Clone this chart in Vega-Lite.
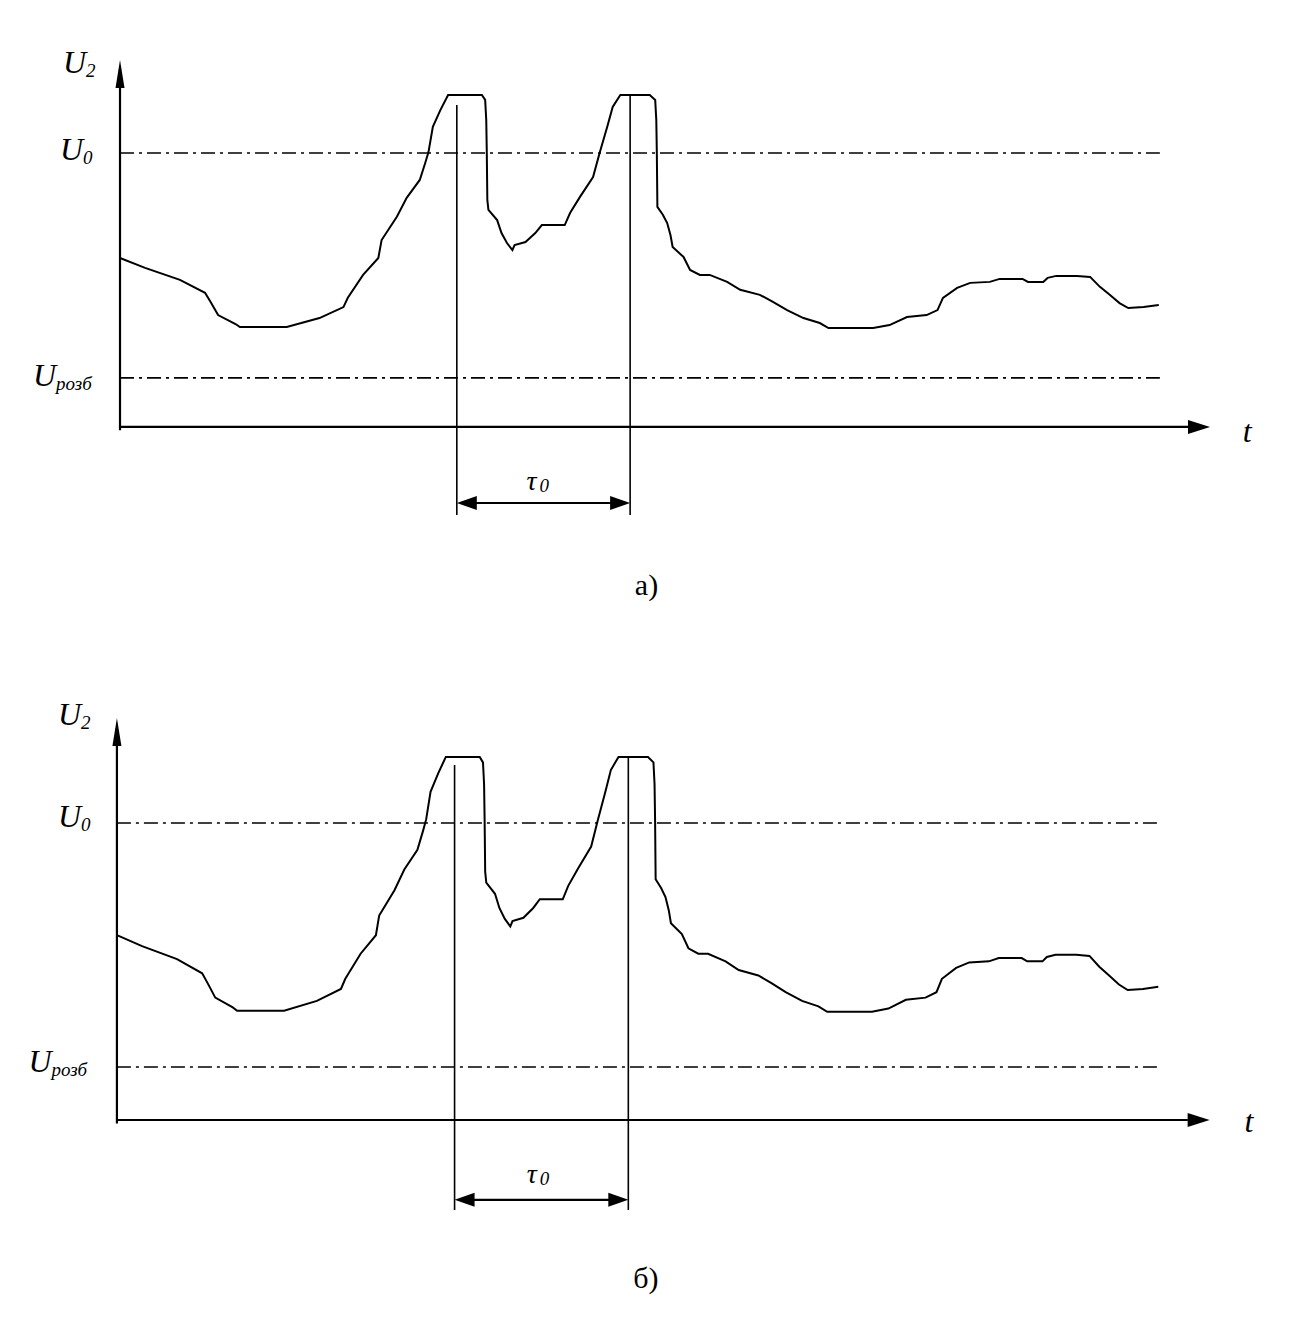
{
  "$schema": "https://vega.github.io/schema/vega-lite/v6.json",
  "padding": 0,
  "spacing": 0,
  "background": "white",
  "config": {"view": {"stroke": null}},
  "datasets": {
    "curve": [
      {"t": 0, "u": 50.9}, {"t": 2.3, "u": 47.9}, {"t": 5.5, "u": 44.3}, {"t": 7.8, "u": 40.4},
      {"t": 8.3, "u": 37.7}, {"t": 9.0, "u": 33.7}, {"t": 10.6, "u": 31.0}, {"t": 11.0, "u": 30.1},
      {"t": 15.3, "u": 30.1}, {"t": 18.3, "u": 32.8}, {"t": 20.5, "u": 36.1}, {"t": 20.9, "u": 38.9},
      {"t": 22.3, "u": 45.8}, {"t": 23.7, "u": 50.9}, {"t": 24.0, "u": 56.3}, {"t": 25.4, "u": 63.3},
      {"t": 26.3, "u": 69.0}, {"t": 27.5, "u": 74.4}, {"t": 28.0, "u": 79.5}, {"t": 28.3, "u": 82.8},
      {"t": 28.7, "u": 90.4}, {"t": 29.4, "u": 95.5}, {"t": 30.1, "u": 100}, {"t": 33.2, "u": 100},
      {"t": 33.5, "u": 98.5}, {"t": 33.6, "u": 92.5}, {"t": 33.65, "u": 82.5}, {"t": 33.7, "u": 68.4},
      {"t": 33.8, "u": 65.4}, {"t": 34.6, "u": 62.3}, {"t": 35.0, "u": 58.4}, {"t": 35.5, "u": 55.4},
      {"t": 36.0, "u": 53.3}, {"t": 36.2, "u": 54.8}, {"t": 37.2, "u": 55.7}, {"t": 38.1, "u": 58.4},
      {"t": 38.7, "u": 60.8}, {"t": 40.8, "u": 60.8}, {"t": 41.3, "u": 64.5}, {"t": 42.2, "u": 69.3},
      {"t": 43.4, "u": 75.3}, {"t": 44.0, "u": 82.5}, {"t": 44.7, "u": 90.4}, {"t": 45.2, "u": 96.4},
      {"t": 45.9, "u": 100}, {"t": 48.6, "u": 100}, {"t": 49.1, "u": 98.5}, {"t": 49.2, "u": 92.5},
      {"t": 49.25, "u": 82.5}, {"t": 49.3, "u": 66.3}, {"t": 49.8, "u": 63.9}, {"t": 50.2, "u": 61.4},
      {"t": 50.5, "u": 57.8}, {"t": 50.7, "u": 54.2}, {"t": 51.7, "u": 51.2}, {"t": 52.3, "u": 47.3},
      {"t": 53.2, "u": 45.8}, {"t": 54.1, "u": 45.8}, {"t": 55.7, "u": 43.7}, {"t": 56.9, "u": 41.3},
      {"t": 58.7, "u": 39.8}, {"t": 59.9, "u": 37.7}, {"t": 61.2, "u": 35.2}, {"t": 62.7, "u": 32.8},
      {"t": 64.2, "u": 31.3}, {"t": 65.0, "u": 29.8}, {"t": 69.1, "u": 29.8}, {"t": 70.6, "u": 30.7},
      {"t": 72.2, "u": 33.1}, {"t": 74.0, "u": 33.7}, {"t": 75.0, "u": 35.2}, {"t": 75.5, "u": 38.9},
      {"t": 76.8, "u": 41.9}, {"t": 78.0, "u": 43.4}, {"t": 79.8, "u": 43.7}, {"t": 80.7, "u": 44.6},
      {"t": 82.8, "u": 44.6}, {"t": 83.3, "u": 43.7}, {"t": 84.7, "u": 43.7}, {"t": 85.1, "u": 44.9},
      {"t": 85.9, "u": 45.5}, {"t": 87.8, "u": 45.5}, {"t": 89.0, "u": 45.2}, {"t": 89.9, "u": 42.2},
      {"t": 90.8, "u": 39.8}, {"t": 91.7, "u": 37.3}, {"t": 92.5, "u": 35.8}, {"t": 93.9, "u": 36.1},
      {"t": 95.3, "u": 36.7}
    ]
  },
  "vconcat": [
    {
      "width": 1308,
      "height": 668,
      "encoding": {
        "x": {"field": "t", "type": "quantitative", "axis": null, "scale": {"domain": [-11.01, 108.99], "nice": false, "zero": false}},
        "y": {"field": "u", "type": "quantitative", "axis": null, "scale": {"domain": [-72.6, 128.6], "nice": false, "zero": false}}
      },
      "layer": [
        {
          "data": {"values": [
            {"t": 0, "t2": 95.4, "u": 82.5, "u2": 82.5},
            {"t": 0, "t2": 95.4, "u": 14.8, "u2": 14.8}
          ]},
          "mark": {"type": "rule", "color": "black", "strokeWidth": 1.6, "strokeDash": [14, 5, 3, 5]},
          "encoding": {"x2": {"field": "t2"}, "y2": {"field": "u2"}}
        },
        {
          "data": {"values": [
            {"t": 30.9, "t2": 30.9, "u": 97, "u2": -26.5},
            {"t": 46.8, "t2": 46.8, "u": 100, "u2": -26.5}
          ]},
          "mark": {"type": "rule", "color": "black", "strokeWidth": 1.6},
          "encoding": {"x2": {"field": "t2"}, "y2": {"field": "u2"}}
        },
        {
          "data": {"values": [
            {"t": 0, "t2": 0, "u": -1, "u2": 108},
            {"t": 0, "t2": 98, "u": 0, "u2": 0},
            {"t": 31.5, "t2": 46, "u": -22.9, "u2": -22.9}
          ]},
          "mark": {"type": "rule", "color": "black", "strokeWidth": 2.2},
          "encoding": {"x2": {"field": "t2"}, "y2": {"field": "u2"}}
        },
        {
          "data": {"name": "curve"},
          "mark": {"type": "line", "color": "black", "strokeWidth": 2},
          "encoding": {}
        },
        {
          "data": {"values": [
            {"t": 100, "u": 0, "dir": "axis-right"},
            {"t": 0, "u": 110.5, "dir": "axis-up"},
            {"t": 30.9, "u": -22.9, "dir": "dim-left"},
            {"t": 46.8, "u": -22.9, "dir": "dim-right"}
          ]},
          "mark": {"type": "point", "filled": true, "color": "black", "opacity": 1, "size": 400, "strokeWidth": 0},
          "encoding": {
            "shape": {"field": "dir", "type": "nominal", "legend": null, "scale": {"domain": ["axis-right", "axis-up", "dim-left", "dim-right"], "range": ["M0,0L-2.2,-0.7L-2.2,0.7Z", "M0,0L-0.45,2.8L0.45,2.8Z", "M0,0L2,-0.7L2,0.7Z", "M0,0L-2,-0.7L-2,0.7Z"]}}
          }
        },
        {
          "data": {"values": [
            {"t": -5.23, "u": 106.6, "m": "U", "s": "2"},
            {"t": -5.5, "u": 80.4, "m": "U", "s": "0"},
            {"t": -7.98, "u": 12.3, "m": "U", "s": "розб"}
          ]},
          "layer": [
            {"mark": {"type": "text", "font": "Liberation Serif", "fontStyle": "italic", "fontSize": 32, "align": "left", "baseline": "alphabetic", "color": "black"}, "encoding": {"text": {"field": "m"}}},
            {"mark": {"type": "text", "font": "Liberation Serif", "fontStyle": "italic", "fontSize": 19, "align": "left", "baseline": "alphabetic", "dx": 23, "dy": 4, "color": "black"}, "encoding": {"text": {"field": "s"}}}
          ]
        },
        {
          "data": {"values": [{"t": 37.3, "u": -19.0, "m": "τ", "s": "0"}]},
          "layer": [
            {"mark": {"type": "text", "font": "Liberation Serif", "fontStyle": "italic", "fontSize": 28, "align": "left", "baseline": "alphabetic", "color": "black"}, "encoding": {"text": {"field": "m"}}},
            {"mark": {"type": "text", "font": "Liberation Serif", "fontStyle": "italic", "fontSize": 19, "align": "left", "baseline": "alphabetic", "dx": 13, "dy": 2, "color": "black"}, "encoding": {"text": {"field": "s"}}}
          ]
        },
        {
          "data": {"values": [{"t": 103.0, "u": -4.5, "m": "t"}]},
          "mark": {"type": "text", "font": "Liberation Serif", "fontStyle": "italic", "fontSize": 32, "align": "left", "baseline": "alphabetic", "color": "black"},
          "encoding": {"text": {"field": "m"}}
        },
        {
          "data": {"values": [{"t": 48.3, "u": -50.6, "m": "а)"}]},
          "mark": {"type": "text", "font": "Liberation Serif", "fontSize": 30, "align": "center", "baseline": "alphabetic", "color": "black"},
          "encoding": {"text": {"field": "m"}}
        }
      ]
    },
    {
      "width": 1308,
      "height": 668,
      "encoding": {
        "x": {"field": "t", "type": "quantitative", "axis": null, "scale": {"domain": [-10.7, 109.0], "nice": false, "zero": false}},
        "y": {"field": "u", "type": "quantitative", "axis": null, "scale": {"domain": [-59.5, 124.5], "nice": false, "zero": false}}
      },
      "layer": [
        {
          "data": {"values": [
            {"t": 0, "t2": 95.4, "u": 81.8, "u2": 81.8},
            {"t": 0, "t2": 95.4, "u": 14.6, "u2": 14.6}
          ]},
          "mark": {"type": "rule", "color": "black", "strokeWidth": 1.6, "strokeDash": [14, 5, 3, 5]},
          "encoding": {"x2": {"field": "t2"}, "y2": {"field": "u2"}}
        },
        {
          "data": {"values": [
            {"t": 30.9, "t2": 30.9, "u": 97.8, "u2": -24.8},
            {"t": 46.8, "t2": 46.8, "u": 100, "u2": -24.8}
          ]},
          "mark": {"type": "rule", "color": "black", "strokeWidth": 1.6},
          "encoding": {"x2": {"field": "t2"}, "y2": {"field": "u2"}}
        },
        {
          "data": {"values": [
            {"t": 0, "t2": 0, "u": -1, "u2": 108},
            {"t": 0, "t2": 98, "u": 0, "u2": 0},
            {"t": 31.5, "t2": 46, "u": -22.0, "u2": -22.0}
          ]},
          "mark": {"type": "rule", "color": "black", "strokeWidth": 2.2},
          "encoding": {"x2": {"field": "t2"}, "y2": {"field": "u2"}}
        },
        {
          "data": {"name": "curve"},
          "mark": {"type": "line", "color": "black", "strokeWidth": 2},
          "encoding": {}
        },
        {
          "data": {"values": [
            {"t": 100, "u": 0, "dir": "axis-right"},
            {"t": 0, "u": 110.7, "dir": "axis-up"},
            {"t": 30.9, "u": -22.0, "dir": "dim-left"},
            {"t": 46.8, "u": -22.0, "dir": "dim-right"}
          ]},
          "mark": {"type": "point", "filled": true, "color": "black", "opacity": 1, "size": 400, "strokeWidth": 0},
          "encoding": {
            "shape": {"field": "dir", "type": "nominal", "legend": null, "scale": {"domain": ["axis-right", "axis-up", "dim-left", "dim-right"], "range": ["M0,0L-2.2,-0.7L-2.2,0.7Z", "M0,0L-0.45,2.8L0.45,2.8Z", "M0,0L2,-0.7L2,0.7Z", "M0,0L-2,-0.7L-2,0.7Z"]}}
          }
        },
        {
          "data": {"values": [
            {"t": -5.4, "u": 108.8, "m": "U", "s": "2"},
            {"t": -5.4, "u": 80.7, "m": "U", "s": "0"},
            {"t": -8.1, "u": 13.2, "m": "U", "s": "розб"}
          ]},
          "layer": [
            {"mark": {"type": "text", "font": "Liberation Serif", "fontStyle": "italic", "fontSize": 32, "align": "left", "baseline": "alphabetic", "color": "black"}, "encoding": {"text": {"field": "m"}}},
            {"mark": {"type": "text", "font": "Liberation Serif", "fontStyle": "italic", "fontSize": 19, "align": "left", "baseline": "alphabetic", "dx": 23, "dy": 4, "color": "black"}, "encoding": {"text": {"field": "s"}}}
          ]
        },
        {
          "data": {"values": [{"t": 37.5, "u": -17.4, "m": "τ", "s": "0"}]},
          "layer": [
            {"mark": {"type": "text", "font": "Liberation Serif", "fontStyle": "italic", "fontSize": 28, "align": "left", "baseline": "alphabetic", "color": "black"}, "encoding": {"text": {"field": "m"}}},
            {"mark": {"type": "text", "font": "Liberation Serif", "fontStyle": "italic", "fontSize": 19, "align": "left", "baseline": "alphabetic", "dx": 13, "dy": 2, "color": "black"}, "encoding": {"text": {"field": "s"}}}
          ]
        },
        {
          "data": {"values": [{"t": 103.2, "u": -3.3, "m": "t"}]},
          "mark": {"type": "text", "font": "Liberation Serif", "fontStyle": "italic", "fontSize": 32, "align": "left", "baseline": "alphabetic", "color": "black"},
          "encoding": {"text": {"field": "m"}}
        },
        {
          "data": {"values": [{"t": 48.4, "u": -46.3, "m": "б)"}]},
          "mark": {"type": "text", "font": "Liberation Serif", "fontSize": 30, "align": "center", "baseline": "alphabetic", "color": "black"},
          "encoding": {"text": {"field": "m"}}
        }
      ]
    }
  ]
}
